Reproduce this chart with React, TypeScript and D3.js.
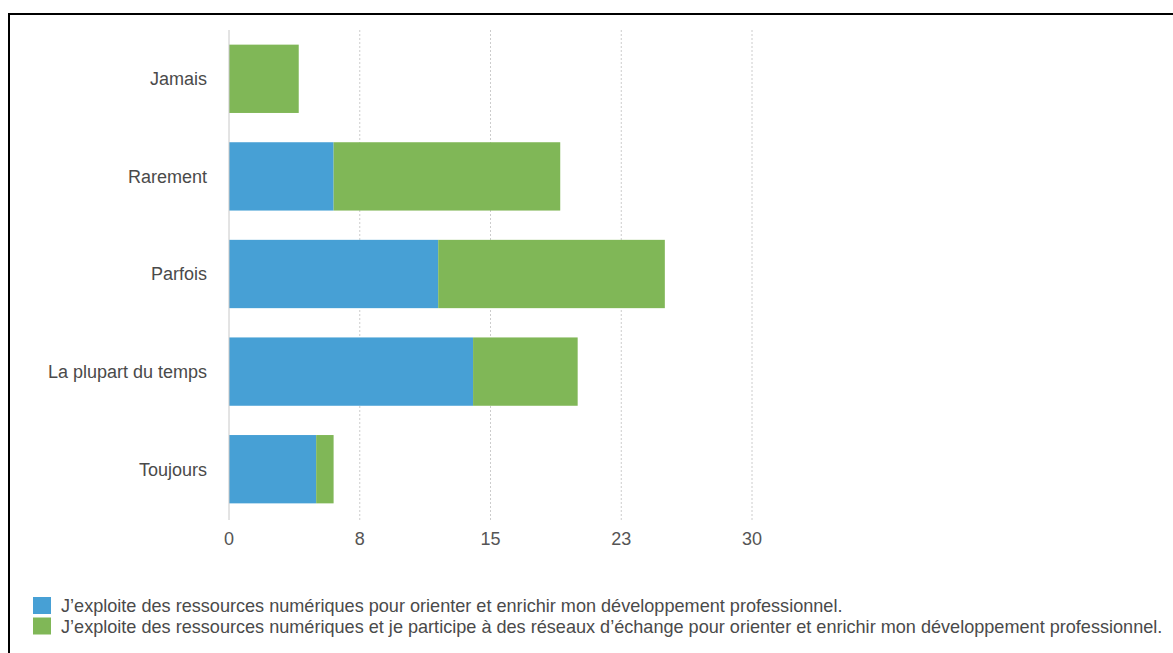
import React from "react";
import * as d3 from "d3";

const categories = ["Jamais", "Rarement", "Parfois", "La plupart du temps", "Toujours"];
const seriesNames = [
  "J’exploite des ressources numériques pour orienter et enrichir mon développement professionnel.",
  "J’exploite des ressources numériques et je participe à des réseaux d’échange pour orienter et enrichir mon développement professionnel.",
];
const seriesBlue = [0, 6, 12, 14, 5];
const seriesGreen = [4, 13, 13, 6, 1];
const tickValues = [0, 7.5, 15, 22.5, 30];
const colors = ["#47a0d5", "#80b757"];

export default function App() {
  const W = 1173, H = 653;
  const x = d3.scaleLinear().domain([0, 30]).range([229, 752]);
  const y = d3.scaleBand<string>().domain(categories).range([30, 518]).paddingInner(0.3).paddingOuter(0.15);
  const rows = categories.map((c, i) => ({ c, b: seriesBlue[i], g: seriesGreen[i] }));
  const stack = d3.stack<any>().keys(["b", "g"])(rows);
  const font = "'Liberation Sans', Arial, Helvetica, sans-serif";
  return (
    <svg width={W} height={H} style={{ position: "absolute", left: 0, top: 0, background: "#fff" }} fontFamily={font}>
      <line x1={9} x2={W} y1={14} y2={14} stroke="#000" strokeWidth={2} />
      <line x1={9} x2={9} y1={13} y2={H} stroke="#000" strokeWidth={2} />
      {tickValues.slice(1).map((t) => (
        <line key={t} x1={x(t)} x2={x(t)} y1={30} y2={520} stroke="#ccc" strokeWidth={1} strokeDasharray="2,2" />
      ))}
      {stack.map((s, si) =>
        s.map((d, i) =>
          d[1] - d[0] > 0 ? (
            <rect key={si + "-" + i} x={x(d[0])} y={y(categories[i])!} width={x(d[1]) - x(d[0])} height={y.bandwidth()} fill={colors[si]} />
          ) : null
        )
      )}
      <line x1={x(0)} x2={x(0)} y1={30} y2={520} stroke="#c8c8c8" strokeWidth={1} />
      {categories.map((c) => (
        <text key={c} x={207} y={y(c)! + y.bandwidth() / 2} dy="0.35em" textAnchor="end" fontSize={18} fill="#4a4a4a">{c}</text>
      ))}
      {tickValues.map((t) => (
        <text key={t} x={x(t)} y={539} dy="0.35em" textAnchor="middle" fontSize={18} fill="#555">{Math.round(t)}</text>
      ))}
      {seriesNames.map((n, i) => (
        <g key={i}>
          <rect x={33} y={597 + i * 20.5} width={18} height={17} fill={colors[i]} />
          <text x={61} y={606 + i * 20.5} dy="0.35em" fontSize={18.1} fill="#4a4a4a">{n}</text>
        </g>
      ))}
    </svg>
  );
}
